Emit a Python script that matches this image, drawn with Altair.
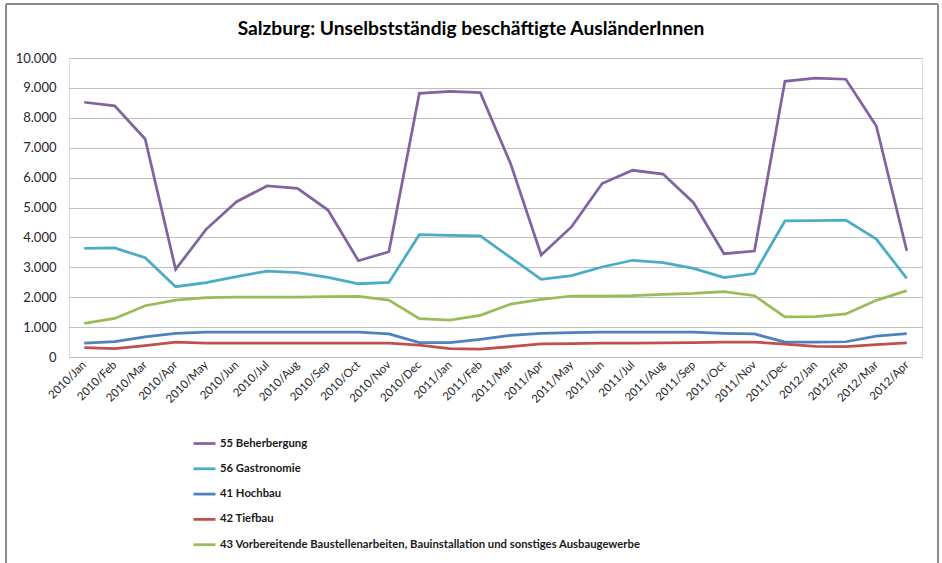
import altair as alt
import pandas as pd

months = [
    "2010/Jan", "2010/Feb", "2010/Mar", "2010/Apr", "2010/May", "2010/Jun",
    "2010/Jul", "2010/Aug", "2010/Sep", "2010/Oct", "2010/Nov", "2010/Dec",
    "2011/Jan", "2011/Feb", "2011/Mar", "2011/Apr", "2011/May", "2011/Jun",
    "2011/Jul", "2011/Aug", "2011/Sep", "2011/Oct", "2011/Nov", "2011/Dec",
    "2012/Jan", "2012/Feb", "2012/Mar", "2012/Apr",
]

beherbergung = [8520, 8400, 7290, 2930, 4270, 5195, 5720, 5640, 4915, 3220, 3520, 8820,
                8885, 8840, 6455, 3410, 4360, 5800, 6245, 6120, 5160, 3455, 3545, 9220,
                9330, 9290, 7725, 3555]
gastronomie = [3635, 3650, 3320, 2350, 2485, 2685, 2875, 2820, 2665, 2450, 2495, 4090,
               4070, 4050, 3320, 2595, 2720, 3010, 3235, 3155, 2965, 2655, 2790, 4550,
               4560, 4580, 3945, 2630]
hochbau = [460, 515, 670, 790, 835, 835, 835, 835, 835, 835, 770, 480,
           480, 590, 725, 790, 815, 835, 835, 835, 830, 790, 770, 500,
           495, 510, 700, 780]
tiefbau = [310, 280, 380, 500, 460, 460, 460, 460, 460, 460, 460, 400,
           280, 260, 345, 435, 445, 460, 460, 470, 480, 500, 500, 430,
           355, 345, 415, 470]
ausbau = [1125, 1290, 1715, 1905, 1985, 2000, 2000, 2000, 2020, 2025, 1905, 1280,
          1235, 1395, 1770, 1930, 2040, 2040, 2050, 2095, 2125, 2185, 2050, 1340,
          1350, 1440, 1895, 2220]

series_names = [
    "55 Beherbergung",
    "56 Gastronomie",
    "41 Hochbau",
    "42 Tiefbau",
    "43 Vorbereitende Baustellenarbeiten, Bauinstallation und sonstiges Ausbaugewerbe",
]
series_colors = ["#8064A2", "#4BACC6", "#4F81BD", "#C0504D", "#9BBB59"]
series_values = [beherbergung, gastronomie, hochbau, tiefbau, ausbau]

chart_title = "Salzburg: Unselbstständig beschäftigte AusländerInnen"

rows = []
for name, values in zip(series_names, series_values):
    for i, (m, v) in enumerate(zip(months, values)):
        rows.append({"Monat": m, "Branche": name, "Wert": v, "order": i})
df = pd.DataFrame(rows)

FONT = "Lato"
W, H = 853, 299

lines = alt.Chart(df).mark_line(strokeWidth=2.75).encode(
    x=alt.X(
        "Monat:N",
        sort=months,
        scale=alt.Scale(type="point", padding=0.5),
        axis=alt.Axis(
            title=None,
            labelAngle=-45,
            labelAlign="right",
            labelBaseline="middle",
            labelPadding=6,
            labelFontSize=11.5,
            labelColor="#262626",
            labelFont=FONT,
            ticks=False,
            domain=True,
            domainColor="#BFBFBF",
            domainWidth=1,
            grid=False,
        ),
    ),
    y=alt.Y(
        "Wert:Q",
        scale=alt.Scale(domain=[0, 10000], nice=False),
        axis=alt.Axis(
            title=None,
            values=list(range(0, 10001, 1000)),
            format=",.0f",
            labelExpr="replace(datum.label, ',', '.')",
            labelFontSize=13,
            labelFont=FONT,
            labelColor="#262626",
            labelPadding=13,
            ticks=False,
            domain=False,
            grid=True,
            gridColor="#BFBFBF",
            gridWidth=1,
        ),
    ),
    color=alt.Color(
        "Branche:N",
        scale=alt.Scale(domain=series_names, range=series_colors),
        sort=series_names,
        legend=alt.Legend(
            title=None,
            orient="none",
            legendX=123,
            legendY=373,
            direction="vertical",
            symbolType="stroke",
            symbolSize=484,
            symbolStrokeWidth=2.75,
            labelFont=FONT,
            labelFontSize=11.3,
            labelFontWeight="bold",
            labelColor="#1a1a1a",
            labelOffset=3,
            rowPadding=7.3,
            labelLimit=800,
        ),
    ),
    detail="Branche:N",
    order="order:Q",
)

# chart title
title = alt.Chart(pd.DataFrame({"t": [chart_title]})).mark_text(
    font=FONT, fontSize=19.2, fontWeight="bold", color="#000000",
    align="center", baseline="middle",
).encode(text="t:N", x=alt.value(402), y=alt.value(-29))

# outer chart frame
frame_left = alt.Chart(df).mark_rule(color="#8C8C8C", strokeWidth=2).encode(
    x=alt.value(-63), y=alt.value(-54), y2=alt.value(H + 260)
)
frame_right = alt.Chart(df).mark_rule(color="#8C8C8C", strokeWidth=2).encode(
    x=alt.value(W + 16), y=alt.value(-54), y2=alt.value(H + 260)
)
frame_top = alt.Chart(df).mark_rule(color="#8C8C8C", strokeWidth=2).encode(
    x=alt.value(-63), x2=alt.value(W + 16), y=alt.value(-54)
)

chart = alt.layer(frame_left, frame_right, frame_top, title, lines).properties(
    width=W,
    height=H,
    autosize=alt.AutoSizeParams(type="none"),
    padding={"left": 69, "top": 58, "right": 20, "bottom": 206},
).configure_view(stroke=None).configure(background="white")

chart.save("out.html", embed_options={"renderer": "svg", "actions": False})
